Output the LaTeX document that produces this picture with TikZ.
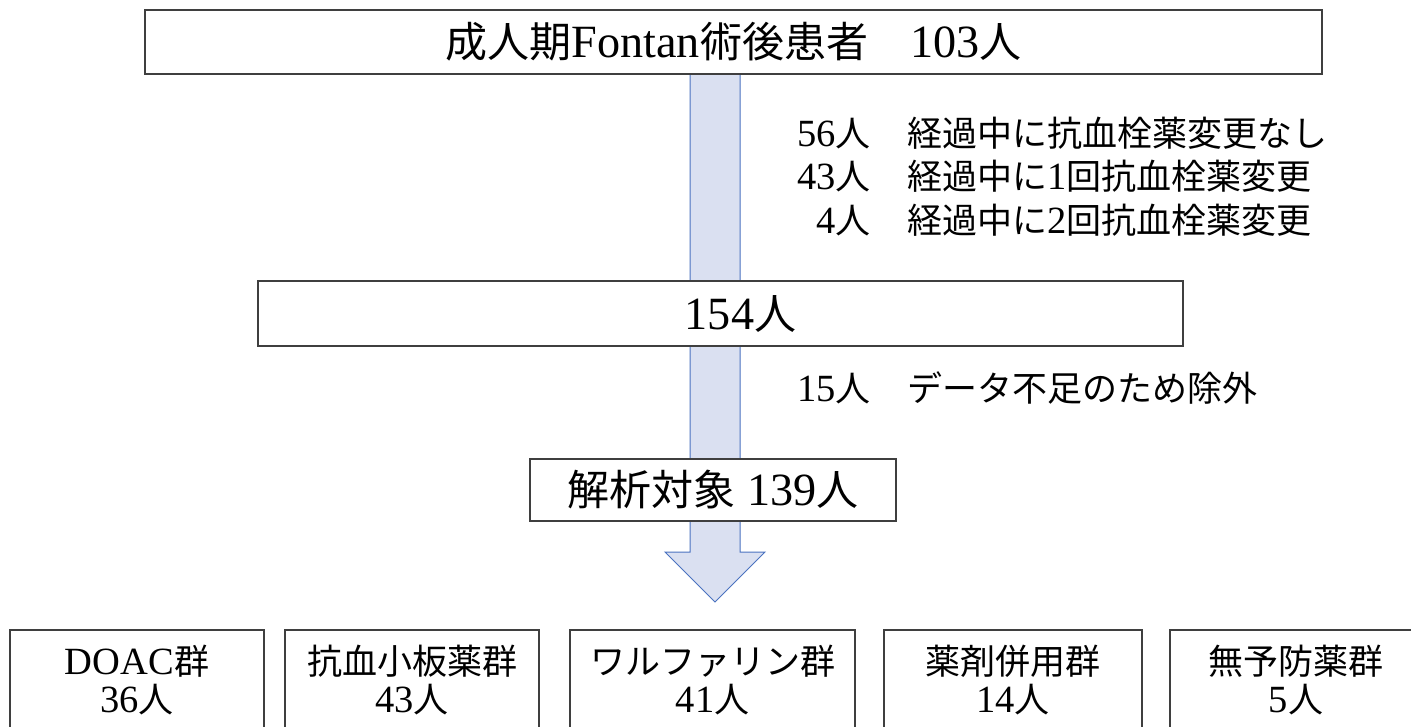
\documentclass[tikz,border=0pt]{standalone}
\usepackage{fontspec}
\setmainfont{Liberation Serif}[Scale=1.1]
\newfontfamily\cjk{Noto Sans CJK JP}
\newcommand{\J}[1]{{\cjk #1}}
\definecolor{arrowfill}{HTML}{DAE0F1}
\definecolor{arrowline}{HTML}{4A72C0}
\definecolor{boxline}{HTML}{3F3F3F}
\tikzset{
  box/.style={draw=boxline, line width=1.3pt, fill=white, inner sep=0pt, align=center},
  big/.style={font=\fontsize{42}{50}\selectfont},
  mid/.style={font=\fontsize{35}{38}\selectfont},
  plain/.style={inner sep=0pt},
  blockarrow/.style={fill=arrowfill, draw=arrowline, line width=1pt, line join=miter}
}
\begin{document}
\begin{tikzpicture}[x=1pt,y=-1pt]
\useasboundingbox (0,0) rectangle (1411,726);
\clip (0,0) rectangle (1411,726);
\fill[white] (0,0) rectangle (1411,726);

% block arrow (behind the boxes)
\coordinate (shaftTop) at (715,74);
\coordinate (tip) at (715,602);
\draw[blockarrow] (690,74) -- (690,552) -- (665,552) -- (tip) -- (765,552) -- (740,552) -- (740,74);

% main boxes
\node[box, big, minimum width=1177pt, minimum height=64pt] (top) at (733.5,42)
  {\J{成人期}Fontan\J{術後患者　}103\J{人}};
\node[box, big, minimum width=925pt, minimum height=65pt] (b154) at (720.5,313.5)
  {\hspace*{40pt}154\J{人}};
\node[box, big, minimum width=366pt, minimum height=62pt] (ana) at (713,490)
  {\J{解析対象} 139\J{人}};

% side notes
\node[mid, plain, anchor=base east] (n56) at (871,146) {56\J{人}};
\node[mid, plain, anchor=base west] (d56) at (907,146) {\J{経過中に抗血栓薬変更なし}};
\node[mid, plain, anchor=base east] (n43) at (871,189.5) {43\J{人}};
\node[mid, plain, anchor=base west] (d43) at (907,189.5) {\J{経過中に}1\J{回抗血栓薬変更}};
\node[mid, plain, anchor=base east] (n4) at (871,233) {4\J{人}};
\node[mid, plain, anchor=base west] (d4) at (907,233) {\J{経過中に}2\J{回抗血栓薬変更}};
\node[mid, plain, anchor=base east] (n15) at (871,401) {15\J{人}};
\node[mid, plain, anchor=base west] (d15) at (907,401) {\J{データ不足のため除外}};

% group boxes
\node[box, mid, minimum width=254pt, minimum height=100pt] (g1) at (137,680) {DOAC\J{群}\\36\J{人}};
\node[box, mid, minimum width=254pt, minimum height=100pt] (g2) at (412,680) {\J{抗血小板薬群}\\43\J{人}};
\node[box, mid, minimum width=285pt, minimum height=100pt] (g3) at (712.5,680) {\J{ワルファリン群}\\41\J{人}};
\node[box, mid, minimum width=258pt, minimum height=100pt] (g4) at (1013,680) {\J{薬剤併用群}\\14\J{人}};
\node[box, mid, minimum width=252pt, minimum height=100pt] (g5) at (1296,680) {\J{無予防薬群}\\5\J{人}};
\end{tikzpicture}
\end{document}
